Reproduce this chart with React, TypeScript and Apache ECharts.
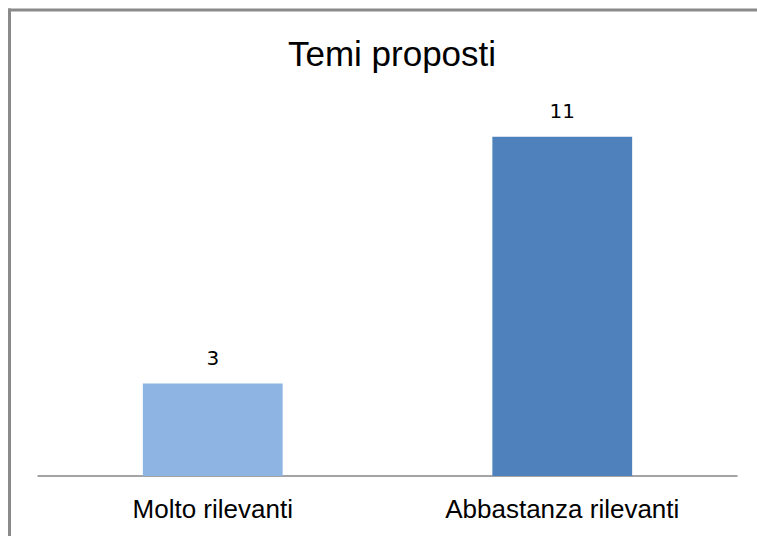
import React, { useEffect, useRef } from "react";
import * as echarts from "echarts";

const categories = ["Molto rilevanti", "Abbastanza rilevanti"];
const values = [3, 11];
const barColors = ["#8EB4E3", "#4F81BD"];
const titleText = "Temi proposti";

export default function App() {
  const ref = useRef<HTMLDivElement>(null);
  useEffect(() => {
    if (!ref.current) return;
    const chart = echarts.init(ref.current, null, { renderer: "svg" });
    chart.setOption({
      animation: false,
      backgroundColor: "#ffffff",
      title: {
        text: titleText,
        left: 387,
        top: 31,
        textAlign: "center",
        textStyle: {
          fontFamily: "Liberation Sans",
          fontSize: 35,
          fontWeight: "normal",
          color: "#000000",
        },
      },
      graphic: [
        { type: "line", shape: { x1: 9.5, y1: 8.5, x2: 9.5, y2: 536 }, style: { stroke: "#8a8a8a", lineWidth: 3 } },
        { type: "line", shape: { x1: 8, y1: 10, x2: 757, y2: 10 }, style: { stroke: "#8a8a8a", lineWidth: 3 } },
      ],
      grid: { left: 38, right: 20, top: 106, bottom: 60, containLabel: false },
      xAxis: {
        type: "category",
        data: categories,
        axisLine: { show: true, lineStyle: { color: "#868686", width: 1.5 } },
        axisTick: { show: false },
        axisLabel: {
          margin: 20,
          fontFamily: "Liberation Sans",
          fontSize: 26,
          color: "#000000",
        },
      },
      yAxis: {
        type: "value",
        min: 0,
        max: 12,
        show: false,
        splitLine: { show: false },
      },
      series: [
        {
          type: "bar",
          barWidth: "40%",
          data: values.map((v, i) => ({ value: v, itemStyle: { color: barColors[i] } })),
          label: {
            show: true,
            position: "top",
            distance: 16,
            fontFamily: "DejaVu Sans",
            fontSize: 20,
            color: "#000000",
          },
        },
      ],
    });
    return () => chart.dispose();
  }, []);
  return (
    <div
      ref={ref}
      style={{ position: "absolute", left: 0, top: 0, width: 757, height: 536 }}
    />
  );
}
